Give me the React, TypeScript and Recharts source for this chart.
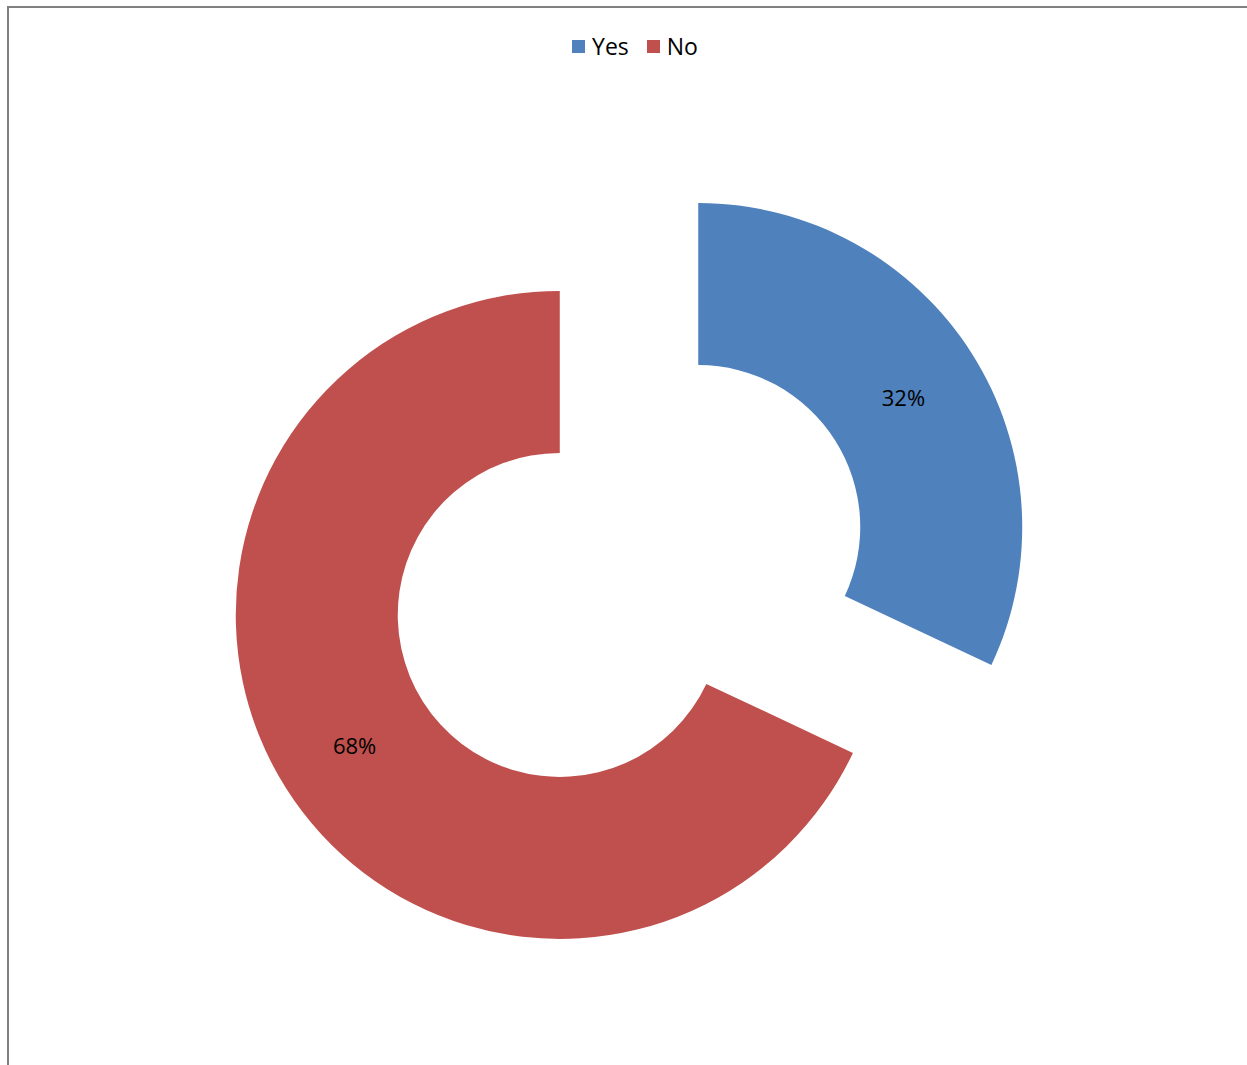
import React from 'react';
import { PieChart, Pie, Cell, Legend } from 'recharts';

// Survey answers (percent)
const categories = ['Yes', 'No'];
const values = [32, 68];
const colors = ['#4F81BD', '#C0504D'];

const RADIAN = Math.PI / 180;
const WIDTH = 1238;
const HEIGHT = 1059;
// centre of the doughnut inside the plot area (legend + margin already taken off)
const BASE_CX = 615;
const BASE_CY = 530;
const EXPLODE = 82;
const INNER = 162;
const OUTER = 324;

const total = values.reduce((a, b) => a + b, 0);

// build one pie per slice so each slice can be pulled away from the centre
const slices = categories.map((name, i) => {
  const before = values.slice(0, i).reduce((a, b) => a + b, 0);
  const startAngle = 90 - (before / total) * 360;
  const endAngle = startAngle - (values[i] / total) * 360;
  const mid = (startAngle + endAngle) / 2;
  return {
    name,
    value: values[i],
    color: colors[i],
    startAngle,
    endAngle,
    cx: BASE_CX + EXPLODE * Math.cos(mid * RADIAN),
    cy: BASE_CY - EXPLODE * Math.sin(mid * RADIAN),
  };
});

const renderLabel = (props: any) => {
  const { cx, cy, midAngle, innerRadius, outerRadius, value } = props;
  const r = (innerRadius + outerRadius) / 2;
  const x = cx + r * Math.cos(-midAngle * RADIAN);
  const y = cy + r * Math.sin(-midAngle * RADIAN);
  return (
    <text
      x={x}
      y={y}
      fill="#000"
      textAnchor="middle"
      dominantBaseline="central"
      fontSize={22}
      fontFamily="'Open Sans', sans-serif"
    >
      {`${Math.round((value / total) * 100)}%`}
    </text>
  );
};

const renderLegend = () => (
  <div
    style={{
      display: 'flex',
      justifyContent: 'center',
      gap: 18,
      fontFamily: "'Open Sans', sans-serif",
      fontSize: 23,
      lineHeight: '28px',
      color: '#000',
    }}
  >
    {categories.map((name, i) => (
      <span key={name} style={{ display: 'flex', alignItems: 'center' }}>
        <span
          style={{
            width: 13,
            height: 13,
            background: colors[i],
            display: 'inline-block',
            marginRight: 7,
          }}
        />
        {name}
      </span>
    ))}
  </div>
);

export default function App() {
  return (
    <div
      style={{
        position: 'absolute',
        top: 6,
        left: 7,
        width: WIDTH,
        height: HEIGHT,
        borderTop: '2px solid #808080',
        borderLeft: '2px solid #808080',
        background: '#fff',
      }}
    >
      <PieChart width={WIDTH} height={HEIGHT}>
        <Legend
          verticalAlign="top"
          align="center"
          content={renderLegend}
          wrapperStyle={{ top: 24, left: 7, width: WIDTH }}
        />
        {slices.map((s) => (
          <Pie
            key={s.name}
            data={[{ name: s.name, value: s.value }]}
            dataKey="value"
            nameKey="name"
            cx={s.cx}
            cy={s.cy}
            innerRadius={INNER}
            outerRadius={OUTER}
            startAngle={s.startAngle}
            endAngle={s.endAngle}
            stroke="none"
            label={renderLabel}
            labelLine={false}
            isAnimationActive={false}
          >
            <Cell fill={s.color} />
          </Pie>
        ))}
      </PieChart>
    </div>
  );
}
